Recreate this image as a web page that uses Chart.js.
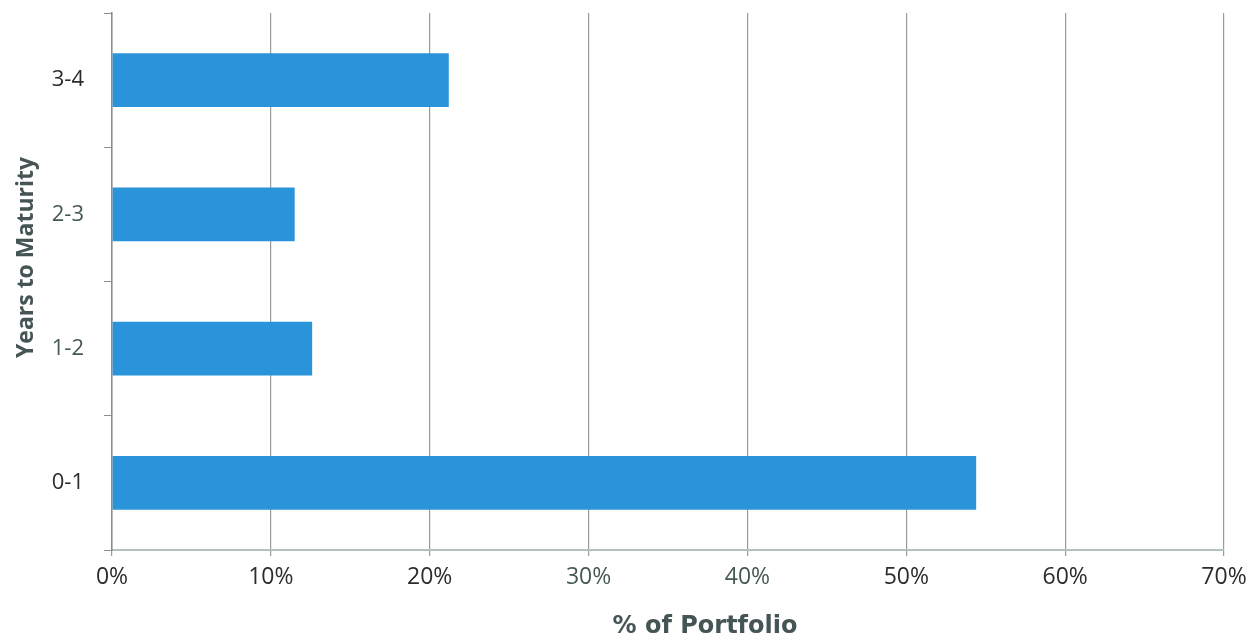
<!DOCTYPE html>
<html>
<head>
<meta charset="utf-8">
<script src="https://cdn.jsdelivr.net/npm/chart.js@4/dist/chart.umd.min.js"></script>
<style>
  html, body { margin: 0; padding: 0; background: #ffffff; }
  #wrap { width: 1258px; height: 640px; }
</style>
</head>
<body>
<div id="wrap"><canvas id="chart" width="1258" height="640"></canvas></div>
<script>
// Portfolio distribution by years to maturity
const maturityBuckets = ['0-1', '1-2', '2-3', '3-4'];
const portfolioShare = [54.4, 12.6, 11.5, 21.2];
const shareTicks = [0, 10, 20, 30, 40, 50, 60, 70];
const xTitle = '% of Portfolio';
const yTitle = 'Years to Maturity';

const barBlue = '#2a94db';
const darkText = '#2a2d2c';
const greyGreen = '#465854';
const titleColor = '#455553';
const fontFamily = '"Open Sans", Lato, sans-serif';

// Axis titles, placed relative to the plot area (centred over the full
// label block rather than only the plot area)
const axisTitles = {
  id: 'axisTitles',
  afterDraw(chart) {
    const { ctx, chartArea } = chart;
    const midX = (chartArea.left + chartArea.right) / 2;
    const midY = (chartArea.top + chartArea.bottom) / 2;
    ctx.save();
    ctx.fillStyle = titleColor;
    ctx.textAlign = 'center';
    ctx.textBaseline = 'middle';

    ctx.font = 'bold 24px "DejaVu Sans", sans-serif';
    ctx.fillText(xTitle, midX + 37, chart.height - 13);

    ctx.translate(26, midY - 24);
    ctx.rotate(-Math.PI / 2);
    ctx.font = 'bold 23px ' + fontFamily;
    ctx.fillText(yTitle, 0, 0);
    ctx.restore();
  }
};

new Chart(document.getElementById('chart'), {
  type: 'bar',
  data: {
    labels: maturityBuckets,
    datasets: [{
      data: portfolioShare,
      backgroundColor: barBlue,
      borderWidth: 0,
      categoryPercentage: 1.0,
      barPercentage: 0.4
    }]
  },
  plugins: [axisTitles],
  options: {
    indexAxis: 'y',
    responsive: false,
    animation: false,
    layout: { padding: { top: 13, right: 34, bottom: 0, left: 0 } },
    plugins: { legend: { display: false }, tooltip: { enabled: false } },
    scales: {
      x: {
        min: 0,
        max: 70,
        afterBuildTicks: (scale) => { scale.ticks = shareTicks.map(v => ({ value: v })); },
        afterFit: (scale) => { scale.height = 90; },
        grid: {
          color: '#959e9d',
          lineWidth: 1.2,
          tickLength: 6,
          drawTicks: true
        },
        border: { display: true, color: '#b3c2c1', width: 2 },
        ticks: {
          callback: (v) => v + '%',
          font: { family: fontFamily, size: 23 },
          color: [darkText, darkText, darkText, greyGreen, greyGreen, darkText, darkText, darkText],
          padding: 8,
          maxRotation: 0
        },
        title: { display: false }
      },
      y: {
        reverse: true,
        afterFit: (scale) => {
          scale.width = 112;
          scale.paddingTop = 0;
          scale.paddingBottom = 0;
        },
        grid: {
          drawOnChartArea: false,
          drawTicks: true,
          tickLength: 8,
          color: '#8d8d8d'
        },
        border: { display: true, color: '#8a8a8a', width: 1.5 },
        ticks: {
          font: { family: fontFamily, size: 22 },
          color: [darkText, greyGreen, greyGreen, darkText],
          padding: 20
        },
        title: { display: false }
      }
    }
  }
});
</script>
</body>
</html>
